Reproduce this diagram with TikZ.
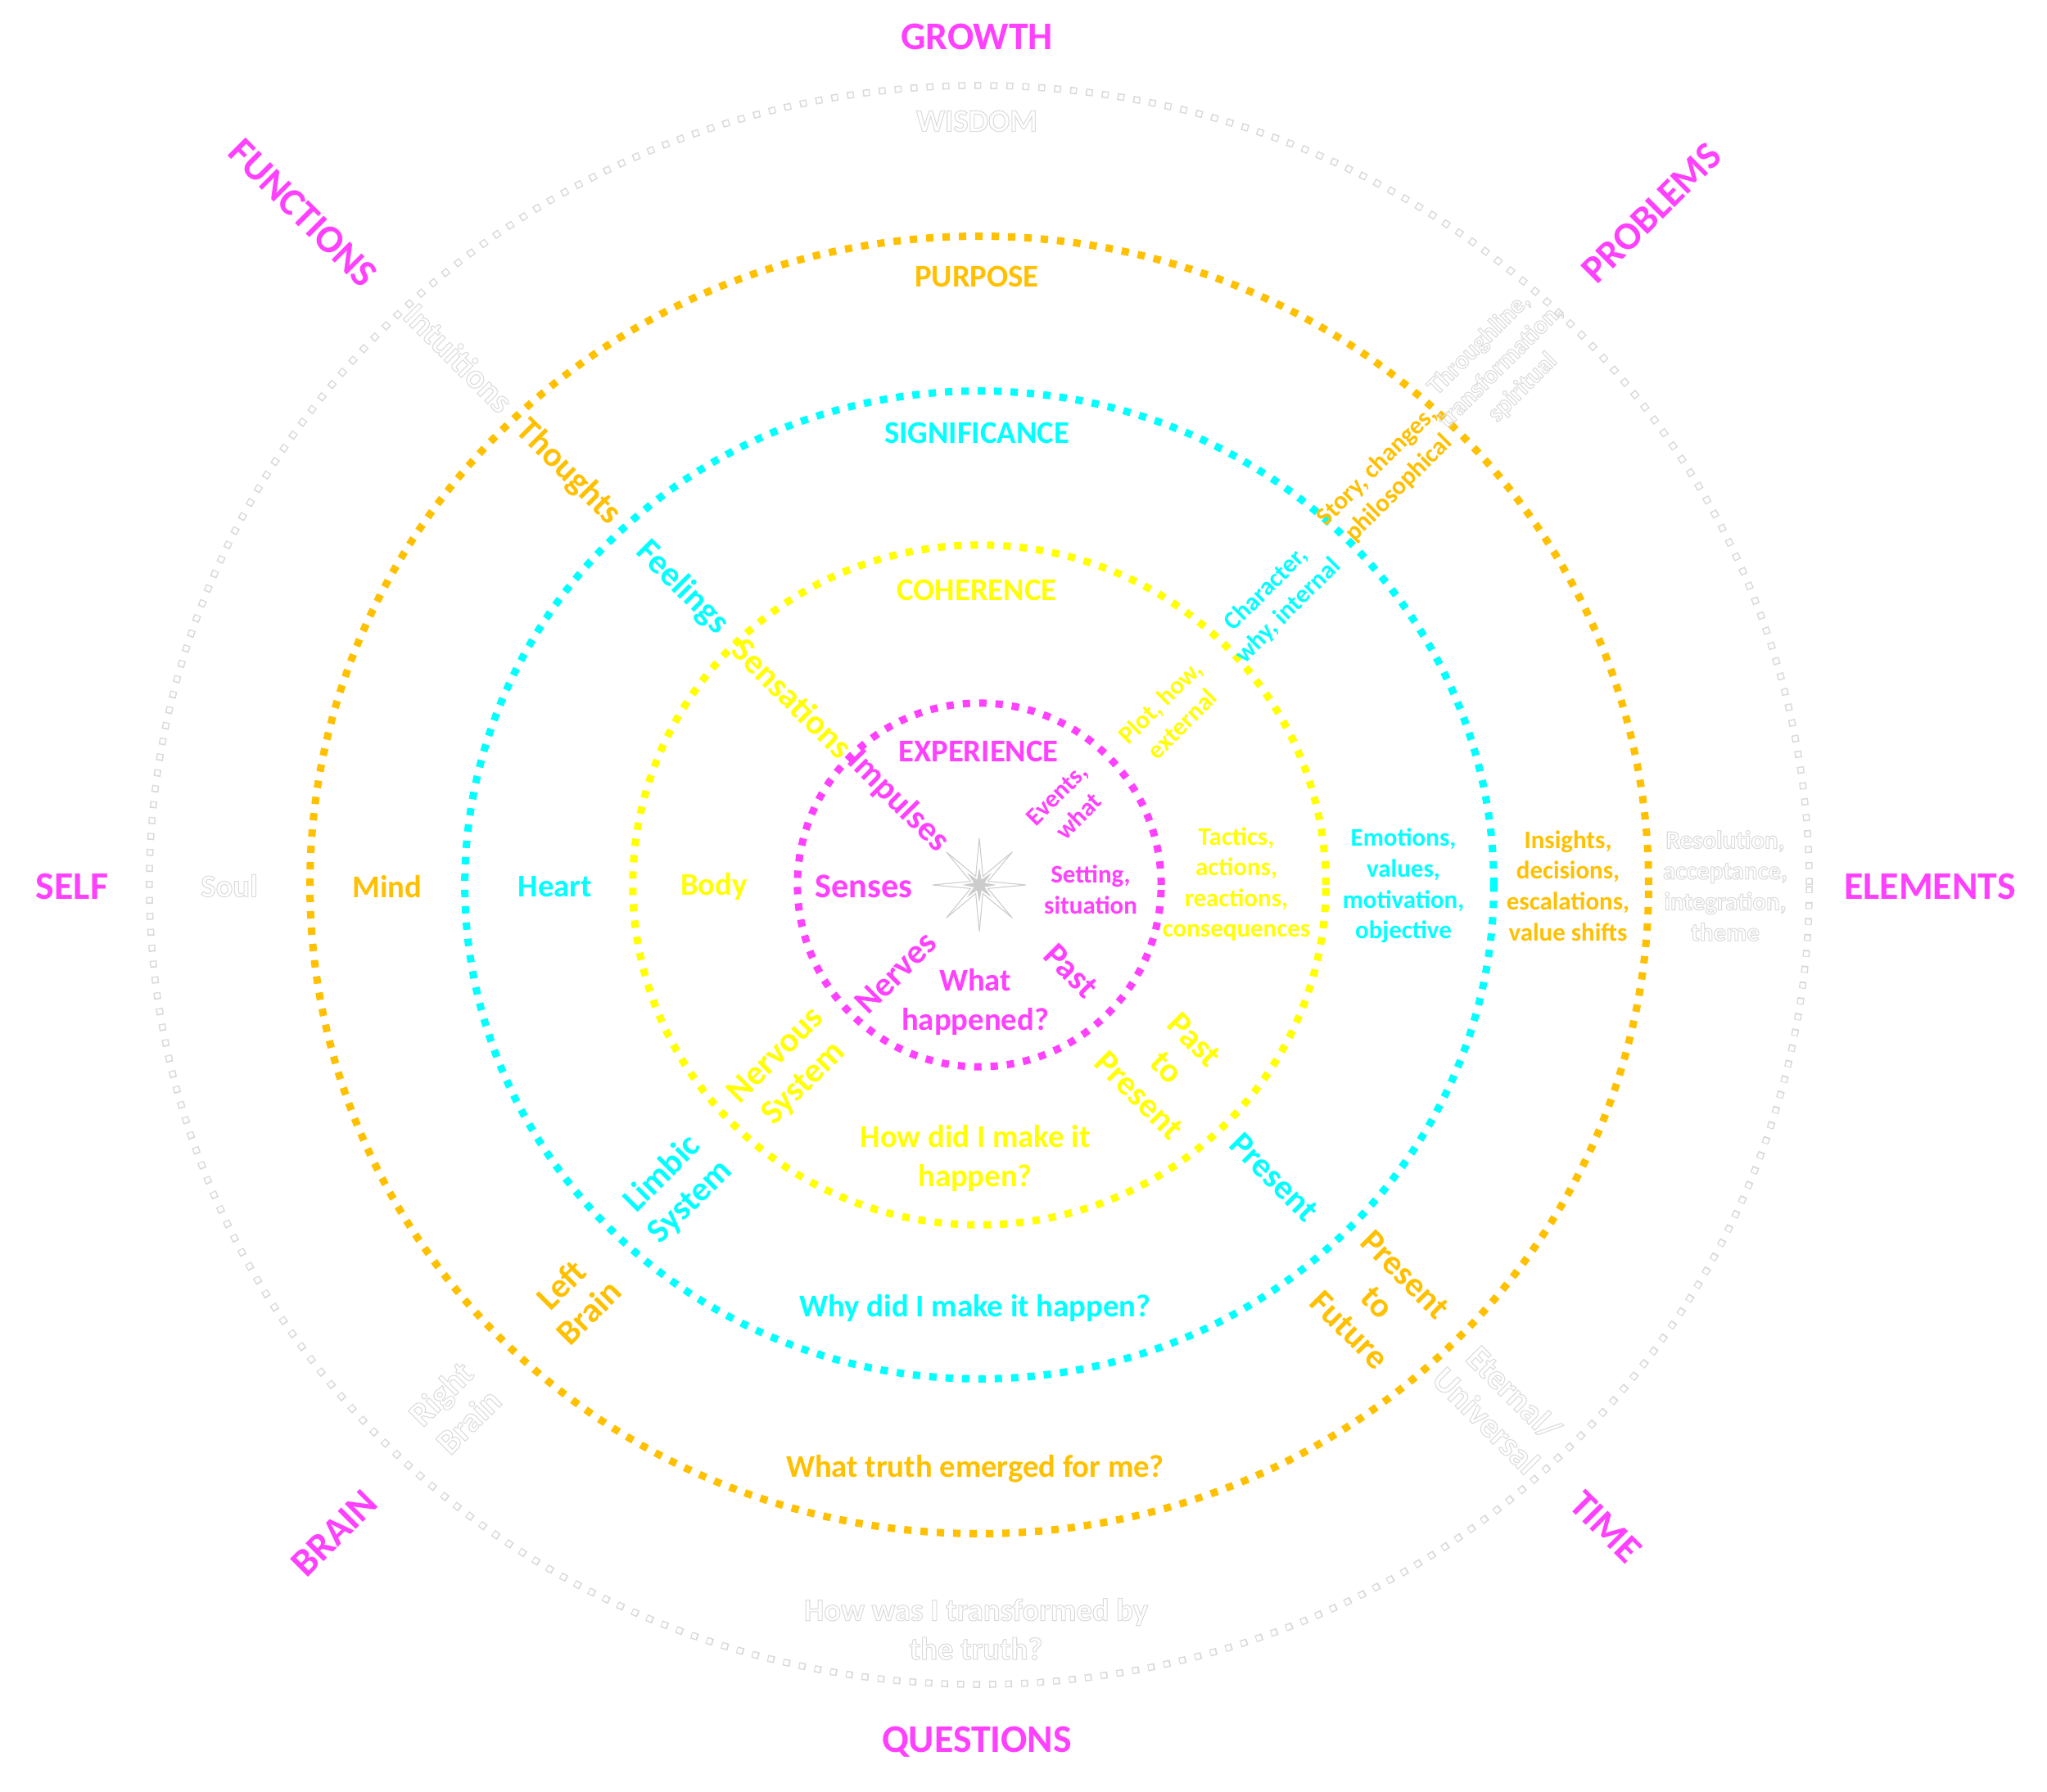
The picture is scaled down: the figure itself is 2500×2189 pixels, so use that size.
\documentclass[tikz,border=0pt]{standalone}
\usepackage{fontspec}
\setmainfont{Carlito}
\usetikzlibrary{shapes.geometric}
\definecolor{mag}{HTML}{FF40FF}
\definecolor{yel}{HTML}{FFFF00}
\definecolor{cya}{HTML}{00FFFF}
\definecolor{ora}{HTML}{FFC000}
\definecolor{fnt}{gray}{0.85}
\definecolor{fnttext}{gray}{0.86}
\newcommand\ghost[1]{\special{pdf:literal direct 1 Tr 0.3 w}#1\special{pdf:literal direct 0 Tr}}
\tikzset{
  lbl/.style={font=\bfseries\fontsize{11}{13.5}\selectfont, align=center, inner sep=0pt},
  biglbl/.style={font=\bfseries\fontsize{13.6}{16}\selectfont, align=center, inner sep=0pt, text=mag},
  midlbl/.style={font=\bfseries\fontsize{12}{13.6}\selectfont, align=center, inner sep=0pt},
  smalllbl/.style={font=\bfseries\fontsize{8.8}{10.7}\selectfont, align=center, inner sep=0pt},
  ring/.style={line width=0.09cm, dash pattern=on 0.09cm off 0.11cm},
}
\begin{document}
\begin{tikzpicture}[x=0.01cm,y=-0.01cm]
\useasboundingbox (0,0) rectangle (2500,2189);
\fill[white] (0,0) rectangle (2500,2189);
\coordinate (c) at (1196,1081);
% faint outer ring (outlined squares)
\draw[fnt, line width=0.085cm, dash pattern=on 0.085cm off 0.11cm] (c) ellipse [x radius=10.13cm, y radius=9.76cm];
\draw[white, line width=0.055cm, dash pattern=on 0.055cm off 0.14cm, dash phase=0.18cm] (c) ellipse [x radius=10.13cm, y radius=9.76cm];
% rings
\draw[ring, ora] (c) ellipse [x radius=8.17cm, y radius=7.92cm];
\draw[ring, cya] (c) ellipse [x radius=6.28cm, y radius=6.03cm];
\draw[ring, yel] (c) ellipse [x radius=4.23cm, y radius=4.15cm];
\draw[ring, mag] (c) ellipse [x radius=2.22cm, y radius=2.22cm];
% star
\node[star, star points=8, star point ratio=5, minimum size=1.14cm, inner sep=0pt, draw=black!20, line width=0.3pt, fill=white] (star) at (c) {};
\node[star, star points=8, star point ratio=3, minimum size=0.42cm, inner sep=0pt, fill=black!20] (starin) at (c) {};

% corner labels
\node[biglbl] (growth) at (1193,45) {GROWTH};
\node[biglbl, rotate=-45] (functions) at (370,260) {FUNCTIONS};
\node[biglbl, rotate=45] (problems) at (2017,260) {PROBLEMS};
\node[biglbl] (self) at (88,1083) {SELF};
\node[biglbl] (elements) at (2357,1083) {ELEMENTS};
\node[biglbl, rotate=45] (brain) at (408,1873) {BRAIN};
\node[biglbl, rotate=-45] (time) at (1961,1865) {TIME};
\node[biglbl] (questions) at (1193,2128) {QUESTIONS};

% faint outer labels (outlined, very light)
\node[lbl, text=fnttext] (wisdom) at (1193,148) {\ghost{WISDOM}};
\node[midlbl, text=fnttext, rotate=-45] (intuitions) at (560,437) {\ghost{Intuitions}};
\node[smalllbl, text=fnttext, rotate=45] (through) at (1833,447) {\ghost{Throughline,}\\\ghost{transformation,}\\\ghost{spiritual}};
\node[lbl, text=fnttext] (soul) at (280,1082) {\ghost{Soul}};
\node[smalllbl, text=fnttext] (resol) at (2107,1082) {\ghost{Resolution,}\\\ghost{acceptance,}\\\ghost{integration,}\\\ghost{theme}};
\node[midlbl, text=fnttext, rotate=45] (rbrain) at (555,1719) {\ghost{Right}\\\ghost{Brain}};
\node[midlbl, text=fnttext, rotate=-45] (eternal) at (1832,1718) {\ghost{Eternal/}\\\ghost{Universal}};
\node[lbl, text=fnttext] (transf) at (1192,1990) {\ghost{How was I transformed by}\\\ghost{the truth?}};

% orange
\node[lbl, text=ora] (purpose) at (1193,338) {PURPOSE};
\node[midlbl, text=ora, rotate=-45] (thoughts) at (694,577) {Thoughts};
\node[smalllbl, text=ora, rotate=45] (story) at (1695,583) {Story, changes,\\philosophical};
\node[lbl, text=ora] (mind) at (473,1083) {Mind};
\node[smalllbl, text=ora] (insights) at (1915,1082) {Insights,\\decisions,\\escalations,\\value shifts};
\node[midlbl, text=ora, rotate=45] (lbrain) at (702,1586) {Left\\Brain};
\node[midlbl, text=ora, rotate=-45] (ptf) at (1682,1591) {Present\\to\\Future};
\node[lbl, text=ora] (truth) at (1191,1794) {What truth emerged for me?};

% cyan
\node[lbl, text=cya] (signif) at (1193,529) {SIGNIFICANCE};
\node[midlbl, text=cya, rotate=-45] (feelings) at (833,718) {Feelings};
\node[smalllbl, text=cya, rotate=45] (charac) at (1560,733) {Character,\\why, internal};
\node[lbl, text=cya] (heart) at (678,1083) {Heart};
\node[smalllbl, text=cya] (emotions) at (1714,1082) {Emotions,\\values,\\motivation,\\objective};
\node[midlbl, text=cya, rotate=45] (limbic) at (826,1451) {Limbic\\System};
\node[midlbl, text=cya, rotate=-45] (present) at (1556,1438) {Present};
\node[lbl, text=cya] (why) at (1191,1598) {Why did I make it happen?};

% yellow
\node[lbl, text=yel] (coher) at (1193,721) {COHERENCE};
\node[midlbl, text=yel, rotate=-45] (sensations) at (968,853) {Sensations};
\node[smalllbl, text=yel, rotate=45] (plot) at (1430,871) {Plot, how,\\external};
\node[lbl, text=yel] (body) at (872,1083) {Body};
\node[smalllbl, text=yel] (tactics) at (1510,1080) {Tactics,\\actions,\\reactions,\\consequences};
\node[midlbl, text=yel, rotate=45] (nervous) at (965,1307) {Nervous\\System};
\node[midlbl, text=yel, rotate=-45] (ptp) at (1425,1304) {Past\\to\\Present};
\node[lbl, text=yel] (howdid) at (1191,1415) {How did I make it\\happen?};

% magenta
\node[lbl, text=mag] (exper) at (1195,918) {EXPERIENCE};
\node[midlbl, text=mag, rotate=-45] (impulses) at (1097,979) {Impulses};
\node[smalllbl, text=mag, rotate=45] (events) at (1304,984) {Events,\\what};
\node[midlbl, text=mag] (senses) at (1055,1083) {Senses};
\node[smalllbl, text=mag] (setting) at (1332,1087) {Setting,\\situation};
\node[midlbl, text=mag, rotate=45] (nerves) at (1094,1188) {Nerves};
\node[midlbl, text=mag, rotate=-45] (past) at (1308,1186) {Past};
\node[lbl, text=mag] (whathap) at (1191,1224) {What\\happened?};
\end{tikzpicture}
\end{document}
